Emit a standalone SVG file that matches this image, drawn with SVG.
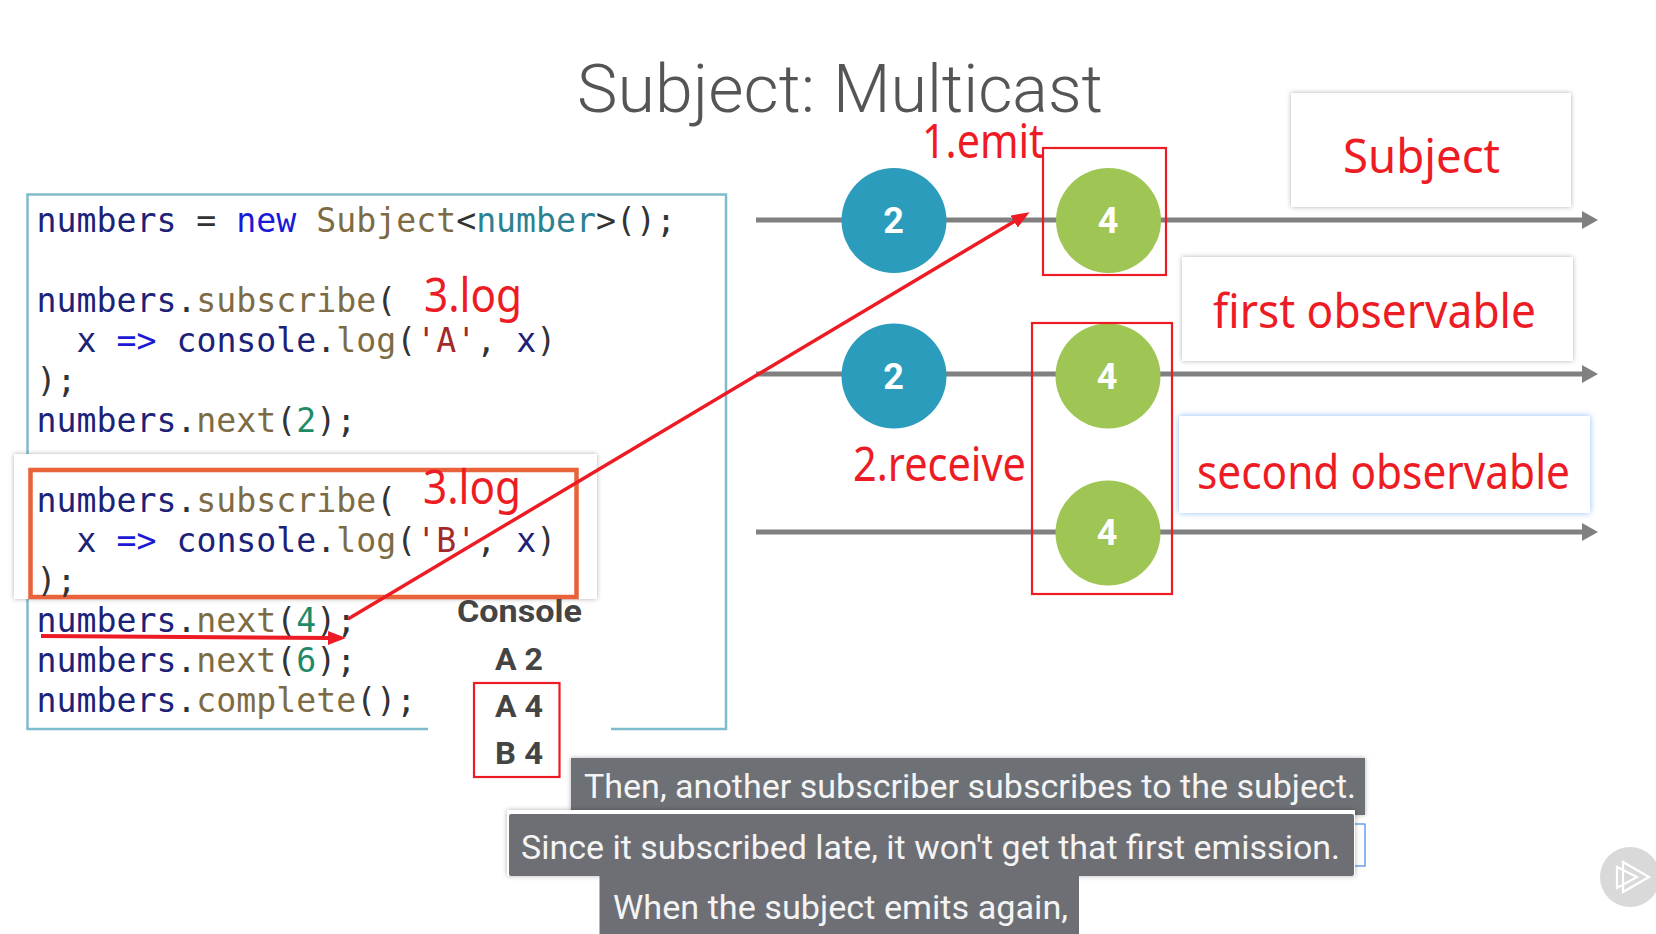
<svg xmlns="http://www.w3.org/2000/svg" width="1656" height="934" viewBox="0 0 1656 934">
<defs>
<filter id="sh" x="-5%" y="-10%" width="110%" height="120%"><feDropShadow dx="0" dy="0" stdDeviation="2.5" flood-color="#000" flood-opacity="0.3"/></filter>
<filter id="glow" x="-5%" y="-10%" width="110%" height="120%"><feDropShadow dx="0" dy="0" stdDeviation="3" flood-color="#4a90ee" flood-opacity="0.6"/></filter>
<marker id="ah" markerUnits="userSpaceOnUse" markerWidth="16" markerHeight="18" refX="1" refY="9" orient="auto"><path d="M0 0L16 9L0 18Z" fill="#808080"/></marker>
<marker id="rh" markerUnits="userSpaceOnUse" markerWidth="18" markerHeight="14" refX="1" refY="7" orient="auto"><path d="M0 0L18 7L0 14Z" fill="#ed1c24"/></marker>
</defs>
<style>
.code{font-family:"DejaVu Sans Mono","Liberation Mono",monospace;font-size:33.2px;fill:#333;}
.v{fill:#1c2278}.k{fill:#1a1ad6}.f{fill:#7d6b45}.t{fill:#2c8193}.s{fill:#a32a2a}.n{fill:#1f8a68}
.red{font-family:"Noto Sans",sans-serif;font-size:47px;fill:#ed1c24;}
.rb{fill:none;stroke:#ed1c24;stroke-width:2.2;}
.tl{stroke:#808080;stroke-width:5;fill:none;marker-end:url(#ah);}
.dig{font-family:Roboto,sans-serif;font-weight:700;font-size:36px;fill:#fff;text-anchor:middle;}
.con{font-family:Roboto,sans-serif;font-weight:700;font-size:31px;fill:#444;}
.cap{font-family:Roboto,sans-serif;font-size:33px;fill:#f4f4f4;}
.capbox{fill:#6d6f74;}
.blue{fill:#2b9cbb}.green{fill:#9fc654}
.lab{fill:#fff;filter:url(#sh);}
</style>
<rect width="1656" height="934" fill="#fff"/>
<text id="title" y="112" font-family="Roboto,sans-serif" font-weight="300" font-size="66" fill="#555"><tspan x="577" textLength="238" lengthAdjust="spacingAndGlyphs">Subject:</tspan> <tspan x="833" textLength="270" lengthAdjust="spacingAndGlyphs">Multicast</tspan></text>
<g id="code-box">
<path d="M428 729H27.5V194.5H726V729H611" fill="none" stroke="#7fbccb" stroke-width="2.5"/>
</g>
<g id="highlight">
<rect class="lab" x="14" y="454" width="583" height="145"/>
<rect x="30.500" y="470" width="546" height="127" fill="none" stroke="#e9623a" stroke-width="4.5"/>
</g>
<g id="code">
<text class="code" x="36.500" y="232"><tspan class="v">numbers</tspan> = <tspan class="k">new</tspan> <tspan class="f">Subject</tspan>&lt;<tspan class="t">number</tspan>&gt;();</text>
<text class="code" x="36.500" y="312"><tspan class="v">numbers</tspan>.<tspan class="f">subscribe</tspan>(</text>
<text class="code" x="76.500" y="352"><tspan class="v">x</tspan> <tspan class="k">=&gt;</tspan> <tspan class="v">console</tspan>.<tspan class="f">log</tspan>(<tspan class="s">'A'</tspan>, <tspan class="v">x</tspan>)</text>
<text class="code" x="36.500" y="392">);</text>
<text class="code" x="36.500" y="432"><tspan class="v">numbers</tspan>.<tspan class="f">next</tspan>(<tspan class="n">2</tspan>);</text>
<text class="code" x="36.500" y="512"><tspan class="v">numbers</tspan>.<tspan class="f">subscribe</tspan>(</text>
<text class="code" x="76.500" y="552"><tspan class="v">x</tspan> <tspan class="k">=&gt;</tspan> <tspan class="v">console</tspan>.<tspan class="f">log</tspan>(<tspan class="s">'B'</tspan>, <tspan class="v">x</tspan>)</text>
<text class="code" x="36.500" y="592">);</text>
<text class="code" x="36.500" y="632"><tspan class="v">numbers</tspan>.<tspan class="f">next</tspan>(<tspan class="n">4</tspan>);</text>
<text class="code" x="36.500" y="672"><tspan class="v">numbers</tspan>.<tspan class="f">next</tspan>(<tspan class="n">6</tspan>);</text>
<text class="code" x="36.500" y="712"><tspan class="v">numbers</tspan>.<tspan class="f">complete</tspan>();</text>
</g>
<g id="console">
<text class="con" x="457" y="622" textLength="125" lengthAdjust="spacingAndGlyphs">Console</text>
<text class="con" x="495" y="670" textLength="48" lengthAdjust="spacingAndGlyphs">A 2</text>
<text class="con" x="495" y="717" textLength="48" lengthAdjust="spacingAndGlyphs">A 4</text>
<text class="con" x="495" y="764" textLength="48" lengthAdjust="spacingAndGlyphs">B 4</text>
<rect class="rb" x="474" y="683" width="85.500" height="94"/>
</g>
<g id="timelines">
<line class="tl" x1="756" y1="220" x2="1583" y2="220"/>
<line class="tl" x1="756" y1="374" x2="1583" y2="374"/>
<line class="tl" x1="756" y1="532" x2="1583" y2="532"/>
</g>
<g id="node-subject-2"><circle class="blue" cx="894" cy="220.500" r="52.500"/><text class="dig" x="893.500" y="233">2</text></g>
<g id="node-subject-4"><circle class="green" cx="1108.500" cy="220.500" r="52.500"/><text class="dig" x="1108" y="233">4</text></g>
<g id="node-first-2"><circle class="blue" cx="894" cy="376" r="52.500"/><text class="dig" x="893.500" y="389">2</text></g>
<g id="node-first-4"><circle class="green" cx="1108" cy="376" r="52.500"/><text class="dig" x="1107" y="389">4</text></g>
<g id="node-second-4"><circle class="green" cx="1108" cy="533" r="52.500"/><text class="dig" x="1107" y="545">4</text></g>
<g id="label-subject"><rect class="lab" x="1291" y="93" width="280" height="114"/><text class="red" x="1343" y="173" textLength="157" lengthAdjust="spacingAndGlyphs">Subject</text></g>
<g id="label-first"><rect class="lab" x="1182" y="257" width="391" height="104"/><text class="red" x="1213" y="328" textLength="323" lengthAdjust="spacingAndGlyphs">first observable</text></g>
<g id="label-second"><rect x="1179" y="416" width="411" height="97" fill="#fff" filter="url(#glow)"/><text class="red" x="1197" y="489" textLength="373" lengthAdjust="spacingAndGlyphs">second observable</text></g>
<g id="annotations">
<text class="red" x="922" y="158" textLength="122" lengthAdjust="spacingAndGlyphs">1.emit</text>
<text class="red" x="853" y="481" textLength="173" lengthAdjust="spacingAndGlyphs">2.receive</text>
<text class="red" x="424" y="312" textLength="98" lengthAdjust="spacingAndGlyphs">3.log</text>
<text class="red" x="423" y="504" textLength="98" lengthAdjust="spacingAndGlyphs">3.log</text>
<rect class="rb" x="1043" y="148" width="123" height="127"/>
<rect class="rb" x="1032" y="323" width="140" height="271"/>
</g>
<g id="connectors" fill="none" stroke="#ed1c24">
<line x1="41" y1="636" x2="329" y2="638" stroke-width="4" marker-end="url(#rh)"/>
<line x1="348" y1="619" x2="1015" y2="221" stroke-width="3.5" marker-end="url(#rh)"/>
</g>
<g id="captions">
<rect class="capbox" x="571" y="758" width="794" height="57" filter="url(#sh)"/>
<text class="cap" x="584" y="798" textLength="772" lengthAdjust="spacingAndGlyphs">Then, another subscriber subscribes to the subject.</text>
<rect x="1345" y="824" width="20" height="42" fill="#fff" stroke="#3d8bea" stroke-width="1.2"/>
<rect x="507" y="810" width="848" height="66" fill="#fff" filter="url(#sh)"/>
<rect class="capbox" x="509" y="814" width="845" height="62" rx="2"/>
<text class="cap" x="521" y="859" textLength="819" lengthAdjust="spacingAndGlyphs">Since it subscribed late, it won't get that first emission.</text>
<rect class="capbox" x="599.500" y="876" width="479.500" height="58"/>
<text class="cap" x="613" y="919" textLength="455" lengthAdjust="spacingAndGlyphs">When the subject emits again,</text>
</g>
<g id="play-badge">
<circle cx="1630" cy="877" r="30" fill="#d9d9d9"/>
<path d="M1623 862L1649 877L1623 892ZM1617 867L1637 877L1617 888Z" fill="none" stroke="#fff" stroke-width="2.2"/>
</g>
</svg>
